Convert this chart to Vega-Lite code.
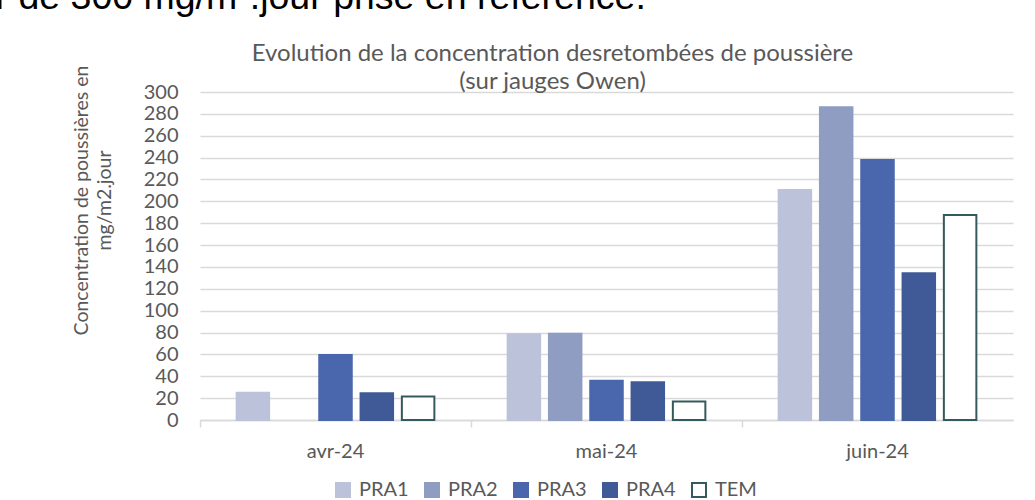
{
  "$schema": "https://vega.github.io/schema/vega-lite/v6.json",
  "autosize": {"type": "none"},
  "width": 813,
  "height": 328,
  "padding": {"left": 200, "top": 92, "right": 22, "bottom": 80},
  "background": "#ffffff",
  "config": {
    "view": {"stroke": null},
    "font": "Lato"
  },
  "data": {
    "values": [
      {"mois": "avr-24", "station": "PRA1", "valeur": 25},
      {"mois": "avr-24", "station": "PRA3", "valeur": 59.5},
      {"mois": "avr-24", "station": "PRA4", "valeur": 24.4},
      {"mois": "avr-24", "station": "TEM", "valeur": 21.5},
      {"mois": "mai-24", "station": "PRA1", "valeur": 78.4},
      {"mois": "mai-24", "station": "PRA2", "valeur": 79},
      {"mois": "mai-24", "station": "PRA3", "valeur": 36},
      {"mois": "mai-24", "station": "PRA4", "valeur": 34.5},
      {"mois": "mai-24", "station": "TEM", "valeur": 17},
      {"mois": "juin-24", "station": "PRA1", "valeur": 210.4},
      {"mois": "juin-24", "station": "PRA2", "valeur": 286},
      {"mois": "juin-24", "station": "PRA3", "valeur": 237.8},
      {"mois": "juin-24", "station": "PRA4", "valeur": 134.2},
      {"mois": "juin-24", "station": "TEM", "valeur": 187.5}
    ]
  },
  "resolve": {"axis": {"x": "independent", "y": "independent"}},
  "layer": [
    {
      "mark": {"type": "bar", "strokeWidth": 2},
      "encoding": {
        "x": {
          "field": "mois",
          "type": "nominal",
          "sort": ["avr-24", "mai-24", "juin-24"],
          "scale": {"paddingInner": 0, "paddingOuter": 0},
          "axis": {
            "title": null,
            "labelAngle": 0,
            "labelFontSize": 20,
            "labelFont": "Lato",
            "labelColor": "#595959",
            "labelPadding": 14,
            "bandPosition": 0,
            "tickColor": "#D9D9D9",
            "tickSize": 7,
            "tickWidth": 1.5,
            "domainColor": "#D9D9D9",
            "domainWidth": 1.5,
            "grid": false
          }
        },
        "xOffset": {
          "field": "station",
          "type": "nominal",
          "sort": ["PRA1", "PRA2", "PRA3", "PRA4", "TEM"],
          "scale": {"domain": ["PRA1", "PRA2", "PRA3", "PRA4", "TEM"], "paddingInner": 0.213, "paddingOuter": 0.887}
        },
        "y": {
          "field": "valeur",
          "type": "quantitative",
          "scale": {"domain": [0, 300], "nice": false},
          "axis": {
            "values": [0, 20, 40, 60, 80, 100, 120, 140, 160, 180, 200, 220, 240, 260, 280, 300],
            "title": ["Concentration de poussières en", "mg/m2.jour"],
            "titleFont": "Lato",
            "titleFontSize": 19.5,
            "titleFontWeight": "normal",
            "titleColor": "#595959",
            "titleLineHeight": 23,
            "titleX": -128,
            "titleY": 108,
            "titleAlign": "center",
            "titleBaseline": "top",
            "titleAngle": -90,
            "labelFontSize": 20,
            "labelFont": "Lato",
            "labelColor": "#595959",
            "labelPadding": 22,
            "domain": false,
            "ticks": false,
            "gridColor": "#D9D9D9",
            "gridWidth": 1.5
          }
        },
        "fill": {
          "field": "station",
          "type": "nominal",
          "scale": {
            "domain": ["PRA1", "PRA2", "PRA3", "PRA4", "TEM"],
            "range": ["#BBC2D9", "#8F9DC3", "#4A67AD", "#405A98", "#FFFFFF"]
          },
          "legend": {
            "title": null,
            "orient": "none",
            "direction": "horizontal",
            "legendX": 133,
            "legendY": 388,
            "symbolType": "square",
            "symbolSize": 196,
            "symbolStrokeWidth": 2,
            "labelFontSize": 20,
            "labelFont": "Lato",
            "labelColor": "#595959",
            "labelOffset": 6,
            "columnPadding": 12
          }
        },
        "stroke": {
          "field": "station",
          "type": "nominal",
          "scale": {
            "domain": ["PRA1", "PRA2", "PRA3", "PRA4", "TEM"],
            "range": ["#BBC2D9", "#8F9DC3", "#4A67AD", "#405A98", "#345A5E"]
          },
          "legend": {
            "title": null,
            "orient": "none",
            "direction": "horizontal",
            "legendX": 133,
            "legendY": 388,
            "symbolType": "square",
            "symbolSize": 196,
            "symbolStrokeWidth": 2,
            "labelFontSize": 20,
            "labelFont": "Lato",
            "labelColor": "#595959",
            "labelOffset": 6,
            "columnPadding": 12
          }
        }
      }
    },
    {
      "mark": {"type": "point", "opacity": 0},
      "encoding": {
        "x": {
          "field": "mois",
          "type": "nominal",
          "sort": ["avr-24", "mai-24", "juin-24"],
          "axis": {
            "orient": "top",
            "domain": false,
            "ticks": false,
            "labels": false,
            "grid": false,
            "title": ["Evolution de la concentration desretombées de poussière", "(sur jauges Owen)"],
            "titleFont": "Lato",
            "titleFontSize": 24,
            "titleFontWeight": "normal",
            "titleColor": "#595959",
            "titleLineHeight": 28,
            "titleX": 352,
            "titleY": -32,
            "titleAlign": "center",
            "titleAnchor": "middle",
            "titleBaseline": "alphabetic",
            "titleAngle": 0
          }
        },
        "y": {
          "field": "valeur",
          "type": "quantitative",
          "axis": {
            "orient": "right",
            "domain": false,
            "ticks": false,
            "labels": false,
            "grid": false,
            "title": "r de 300 mg/m².jour prise en référence.",
            "titleFont": "Liberation Sans",
            "titleFontSize": 37.5,
            "titleFontWeight": "normal",
            "titleColor": "#000000",
            "titleX": -1018,
            "titleY": -84,
            "titleAlign": "left",
            "titleAnchor": "start",
            "titleBaseline": "alphabetic",
            "titleAngle": 0
          }
        }
      }
    }
  ]
}
